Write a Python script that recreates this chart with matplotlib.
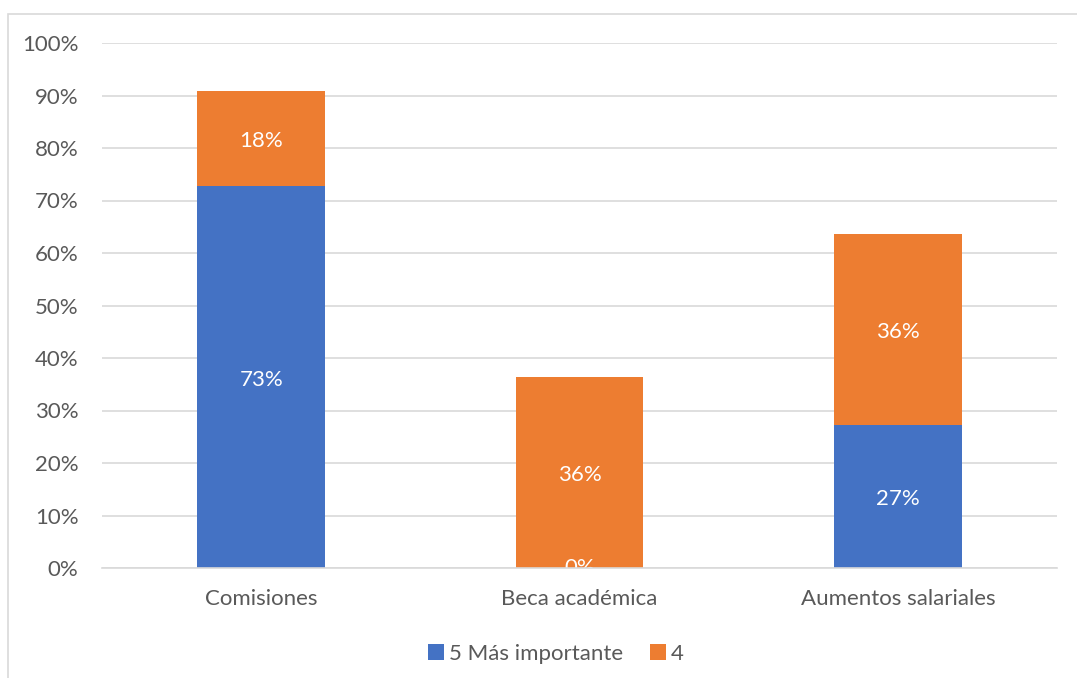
import matplotlib.pyplot as plt
from matplotlib.patches import Rectangle
import numpy as np

categories = ['Comisiones', 'Beca académica', 'Aumentos salariales']
mas_importante = [72.7, 0.0, 27.3]
cuatro = [18.2, 36.4, 36.4]
labels_5 = ['73%', '0%', '27%']
labels_4 = ['18%', '36%', '36%']

plt.rcParams['font.family'] = ['Lato', 'DejaVu Sans']
gray_text = '#595959'
grid_c = '#D9D9D9'
blue = '#4472C4'
orange = '#ED7D31'
fs = 16

fig = plt.figure(figsize=(10.77, 6.78), dpi=100)
ax = fig.add_axes([102 / 1077, 1 - 568 / 678, 955 / 1077, 525 / 678])

# chart area border
fig.patches.append(Rectangle((8 / 1077, -0.1), 1.2, 1 - 14 / 678 + 0.1,
                             transform=fig.transFigure, fill=False,
                             edgecolor=grid_c, linewidth=1.2))

x = np.arange(len(categories))
w = 0.4
b1 = ax.bar(x, mas_importante, w, color=blue, label='5 Más importante', zorder=2)
b2 = ax.bar(x, cuatro, w, bottom=mas_importante, color=orange, label='4', zorder=2)

for i in range(len(categories)):
    y5 = mas_importante[i] / 2 - (0.5 if mas_importante[i] > 0 else 0)
    ax.text(x[i], y5, labels_5[i], ha='center', va='center',
            color='white', fontsize=fs, zorder=3)
    ax.text(x[i], mas_importante[i] + cuatro[i] / 2 - 0.5, labels_4[i], ha='center',
            va='center', color='white', fontsize=fs, zorder=3)

ax.set_xlim(-0.5, 2.5)
ax.set_ylim(0, 100)
ax.set_yticks(range(0, 101, 10))
ax.set_yticklabels([f'{v}%' for v in range(0, 101, 10)])
ax.set_xticks(x)
ax.set_xticklabels(categories)
ax.yaxis.grid(True, color=grid_c, linewidth=1.2, zorder=0)
ax.set_axisbelow(True)
for s in ['top', 'right', 'left']:
    ax.spines[s].set_visible(False)
ax.spines['bottom'].set_color(grid_c)
ax.spines['bottom'].set_linewidth(1.2)
ax.spines['bottom'].set_zorder(4)
ax.tick_params(axis='both', length=0, labelsize=fs, colors=gray_text)
ax.tick_params(axis='y', pad=17)
ax.tick_params(axis='x', pad=15)

fig.legend(handles=[b1, b2], loc='center', bbox_to_anchor=(556 / 1077, 1 - 654 / 678),
           ncol=2, frameon=False, fontsize=fs, labelcolor=gray_text,
           handlelength=0.7, handleheight=0.7, handletextpad=0.25, columnspacing=1.2)

fig.savefig('out.png', dpi=100)
